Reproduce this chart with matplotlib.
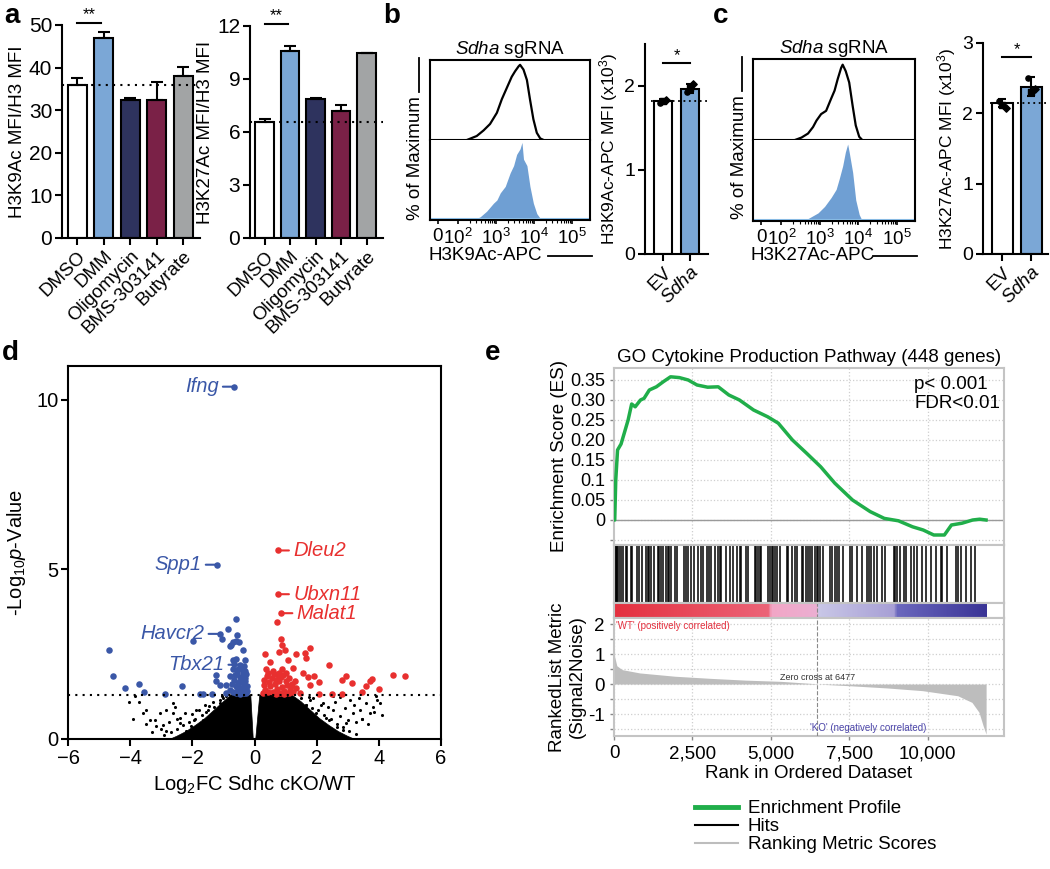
import numpy as np
import matplotlib
matplotlib.use('Agg')
import matplotlib.pyplot as plt
from matplotlib.lines import Line2D
from matplotlib.colors import LinearSegmentedColormap

plt.rcParams['font.family'] = ['Liberation Sans', 'DejaVu Sans']
plt.rcParams['mathtext.fontset'] = 'custom'
plt.rcParams['mathtext.rm'] = 'Liberation Sans'
plt.rcParams['mathtext.it'] = 'Liberation Sans:italic'
plt.rcParams['axes.linewidth'] = 1.5

# ---- panel a data ----
treatments = ['DMSO', 'DMM', 'Oligomycin', 'BMS-303141', 'Butyrate']
a_colors = ['white', '#7BA7D6', '#2E335E', '#7A2147', '#A2A4A5']
h3k9 = [36.0, 47.0, 32.3, 32.3, 38.0]
h3k9_err = [1.6, 1.3, 0.6, 4.3, 2.1]
h3k27 = [6.55, 10.6, 7.85, 7.2, 10.45]
h3k27_err = [0.18, 0.25, 0.07, 0.35, 0.04]

# ---- panels b/c flow histograms (x in log10 units) ----
hist_zero_u = 1.47
b_black_u = [2.23, 2.49, 2.67, 2.84, 3.02, 3.15, 3.28, 3.41, 3.50, 3.59, 3.63, 3.72, 3.81, 3.89, 3.98, 4.07, 4.16, 4.25]
b_black_h = [0, 5, 12, 20, 34, 51, 65, 79, 86, 92, 94, 88, 75, 51, 26, 9, 2, 0]
b_blue_u = [2.40, 2.58, 2.75, 2.93, 3.02, 3.11, 3.24, 3.37, 3.46, 3.54, 3.63, 3.68, 3.72, 3.81, 3.89, 3.98, 4.07, 4.16, 4.25]
b_blue_h = [0, 4, 11, 21, 25, 34, 42, 59, 68, 82, 89, 97, 76, 68, 42, 21, 8, 2, 0]
c_black_u = [2.35, 2.52, 2.69, 2.82, 2.91, 3.03, 3.16, 3.29, 3.38, 3.46, 3.55, 3.59, 3.67, 3.76, 3.85, 3.93, 4.02, 4.10]
c_black_h = [0, 3, 8, 16, 24, 32, 36, 51, 61, 75, 89, 93, 85, 71, 42, 18, 4, 0]
c_blue_u = [2.44, 2.69, 2.95, 3.12, 3.29, 3.42, 3.50, 3.59, 3.66, 3.72, 3.76, 3.85, 3.93, 4.02, 4.10]
c_blue_h = [0, 3, 10, 18, 29, 39, 52, 68, 85, 95, 85, 60, 26, 8, 0]

# ---- panels b/c MFI bars ----
groups = ['EV', r'$\it{Sdha}$']
b_mfi = [1.82, 1.97]
b_err = [0.02, 0.05]
b_pts = [[1.80, 1.82, 1.83], [1.93, 1.98, 2.02]]
c_mfi = [2.15, 2.38]
c_err = [0.06, 0.13]
c_pts = [[2.17, 2.12, 2.07], [2.50, 2.30, 2.34]]

# ---- panel d volcano ----
core_left_x = [-0.04, -0.12, -0.75, -1.00, -1.30, -1.60, -1.90, -2.20, -2.50, -2.70]
core_left_y = [0.0, 1.30, 1.30, 1.10, 0.85, 0.60, 0.40, 0.22, 0.08, 0.0]
core_right_x = [0.04, 0.17, 1.20, 1.50, 1.80, 2.10, 2.40, 2.70, 3.00, 3.20]
core_right_y = [0.0, 1.30, 1.30, 1.10, 0.85, 0.60, 0.40, 0.22, 0.08, 0.0]
ns_x = [-3.86, -3.70, -3.48, -3.21, -3.05, -2.84, -2.62, -2.41, -2.25, -2.03, -1.87, -1.66, -1.45, -1.28,
        -2.62, -3.16, -3.59, -2.84, -2.20, -1.77, -1.12, -0.91, -3.35, -2.95, -2.50, -1.95, -1.55, -4.05,
        -1.00, -1.10, -1.30, -1.50, -1.70, -1.90, -2.10, -2.30, -2.50, -2.70, -2.90, -1.35, -1.60, -2.00,
        -2.40, -2.75, -3.00, -3.30, -1.15, -1.85, -2.15, -3.50, -2.55, -3.90, -1.05,
        1.23, 1.56, 1.77, 1.98, 2.20, 2.41, 2.52, 2.74, 2.95, 3.16, 3.38, 3.59, 3.70, 3.91, 2.52, 3.06,
        2.09, 2.84, 1.88, 1.45, 3.25, 2.65, 2.30, 3.80, 4.05, 1.65, 3.45,
        1.50, 1.65, 1.85, 2.05, 2.25, 2.45, 2.65, 2.85, 3.05, 3.25, 1.75, 2.15, 2.35, 2.60, 2.90, 3.20,
        3.45, 3.65, 3.85, 4.10, 2.00, 2.55, 3.00, 1.90, 3.35, 2.75, 3.95]
ns_y = [1.26, 1.08, 0.86, 0.57, 0.77, 0.86, 0.77, 0.47, 0.77, 0.37, 0.86, 0.57, 0.96, 0.77,
        1.06, 0.37, 0.77, 0.23, 0.23, 0.86, 1.16, 1.26, 0.55, 0.40, 0.60, 0.55, 0.80, 1.10,
        1.20, 1.05, 0.95, 0.85, 0.70, 0.60, 0.50, 0.42, 0.30, 0.20, 0.12, 1.10, 1.00, 0.75,
        0.62, 0.50, 0.30, 0.20, 0.90, 0.35, 0.15, 0.45, 0.95, 0.60, 1.28,
        1.06, 0.86, 1.16, 0.77, 1.06, 0.57, 0.86, 0.67, 0.47, 0.77, 0.86, 1.06, 0.77, 1.26, 1.26, 1.16,
        0.37, 0.27, 1.21, 0.47, 0.50, 0.35, 0.62, 0.95, 1.05, 1.00, 0.60,
        1.20, 1.00, 0.90, 0.85, 0.70, 0.60, 0.45, 0.35, 0.25, 0.15, 1.25, 1.00, 0.95, 1.10, 0.90, 1.00,
        0.60, 0.45, 0.80, 0.70, 0.45, 0.20, 0.55, 0.20, 1.20, 1.25, 1.15]
blue_x = [-4.68, -4.55, -4.17, -3.70, -3.57, -2.87, -2.32, -1.98, -1.74, -1.66, -1.37, -1.21, -1.12, -1.04,
          -1.23, -1.25, -1.12, -0.86, -0.80, -0.75, -0.69, -0.61, -0.57, -0.66, -0.59, -0.50, -0.37, -0.69,
          -0.59, -0.48, -0.32, -0.69, -0.80, -0.91, -0.91, -0.78, -0.72, -0.65, -0.60, -0.55, -0.50, -0.45,
          -0.40, -0.35, -0.30, -0.26, -0.62, -0.55, -0.48, -0.42, -0.36, -0.30, -0.25, -0.70, -0.52, -0.44,
          -0.38, -0.33, -0.28, -0.58, -0.47, -0.40, -0.34, -0.29, -0.24, -0.66, -0.53, -0.43, -0.31]
blue_y = [2.61, 1.87, 1.50, 1.63, 1.40, 1.33, 1.57, 2.88, 1.34, 1.34, 1.33, 5.14, 3.10, 2.96,
          1.90, 1.70, 1.60, 3.24, 2.73, 2.78, 2.85, 3.54, 3.08, 10.39, 2.88, 2.85, 2.61, 2.34,
          2.36, 2.19, 2.34, 2.05, 1.85, 1.60, 1.36, 1.45, 1.62, 1.75, 1.55, 1.42, 1.68, 1.50,
          1.38, 1.60, 1.45, 1.35, 1.90, 1.95, 1.82, 1.72, 1.85, 1.70, 1.55, 1.38, 2.05, 2.10,
          1.98, 2.15, 1.92, 1.35, 1.33, 1.48, 1.36, 1.80, 1.42, 2.22, 1.62, 1.40, 2.00]
red_x = [0.75, 0.75, 0.86, 0.73, 0.86, 0.89, 0.78, 0.99, 1.34, 1.61, 1.80, 1.66, 0.35, 0.51, 0.38,
         1.07, 1.23, 2.41, 1.56, 1.72, 1.93, 1.77, 2.09, 2.07, 2.49, 2.82, 2.93, 3.14, 2.82, 3.46,
         3.59, 3.72, 3.78, 4.02, 4.45, 4.83, 0.28, 0.35, 0.42, 0.50, 0.58, 0.65, 0.72, 0.80, 0.88,
         0.95, 1.05, 1.15, 1.25, 1.35, 1.45, 0.30, 0.40, 0.48, 0.55, 0.62, 0.70, 0.78, 0.85, 0.92,
         1.00, 1.10, 1.20, 1.30, 0.32, 0.45, 0.60, 0.75, 0.90, 1.02, 1.18, 0.68, 0.82, 0.96, 1.12]
red_y = [5.56, 4.27, 3.71, 3.44, 2.95, 2.78, 2.58, 2.61, 2.51, 2.55, 2.68, 2.39, 2.51, 2.26, 2.06,
         2.32, 2.09, 2.19, 1.94, 1.83, 1.85, 1.60, 1.67, 1.34, 1.34, 1.75, 1.85, 1.65, 1.34, 1.40,
         1.55, 1.70, 1.77, 1.47, 1.90, 1.85, 1.35, 1.45, 1.38, 1.55, 1.40, 1.62, 1.48, 1.70, 1.52,
         1.42, 1.60, 1.45, 1.38, 1.50, 1.35, 1.75, 1.85, 1.68, 1.80, 1.92, 1.75, 1.95, 1.83, 1.90,
         1.72, 1.80, 1.62, 1.70, 1.60, 1.95, 2.00, 1.88, 2.05, 1.95, 1.55, 1.33, 1.35, 1.33, 1.36]
gene_labels = ['Ifng', 'Spp1', 'Havcr2', 'Tbx21', 'Dleu2', 'Ubxn11', 'Malat1']
gene_x = [-0.66, -1.21, -1.12, -0.48, 0.75, 0.75, 0.86]
gene_y = [10.39, 5.14, 3.10, 2.19, 5.56, 4.27, 3.71]
p_cut = 1.3

# ---- panel e GSEA ----
es_rank = [0, 23, 56, 113, 225, 338, 450, 563, 676, 845, 957, 1126, 1351, 1577, 1802, 2083, 2365, 2646,
           2984, 3322, 3660, 3998, 4448, 4899, 5236, 5687, 6137, 6588, 7038, 7601, 8164, 8615, 9065,
           9516, 9854, 10192, 10530, 10755, 11093, 11430, 11655, 11858]
es_vals = [0.0, 0.0, 0.10, 0.175, 0.19, 0.22, 0.25, 0.29, 0.283, 0.30, 0.304, 0.325, 0.333, 0.346, 0.358,
           0.356, 0.35, 0.3375, 0.332, 0.333, 0.3125, 0.30, 0.275, 0.258, 0.242, 0.20, 0.167, 0.133,
           0.092, 0.05, 0.021, 0.004, -0.002, -0.017, -0.025, -0.0375, -0.0375, -0.0125, -0.008, 0.0,
           0.002, 0.0]
hit_ranks = [20, 53, 80, 107, 160, 235, 299, 374, 427, 534, 587, 748, 801, 908, 1015, 1068, 1121, 1175,
             1282, 1410, 1442, 1495, 1549, 1655, 1709, 1762, 1816, 1944, 2008, 2221, 2296, 2371, 2456,
             2542, 2670, 2777, 2830, 2969, 3012, 3097, 3204, 3311, 3364, 3418, 3578, 3685, 3791, 3930,
             4005, 4058, 4219, 4272, 4486, 4539, 4592, 4646, 4699, 4913, 4966, 5020, 5073, 5126, 5180,
             5287, 5500, 5554, 5660, 5767, 5821, 5981, 6034, 6109, 6194, 6248, 6323, 6408, 6461, 6515,
             6568, 6675, 6889, 6942, 7049, 7102, 7177, 7284, 7529, 7583, 7743, 7903, 8063, 8117, 8202,
             8277, 8384, 8544, 8651, 8918, 8971, 9025, 9131, 9238, 9292, 9452, 9559, 9665, 9826, 9932,
             10093, 10253, 10413, 10466, 10627, 10894, 10979, 11054, 11214, 11374, 11513]
metric_rank = [0, 90, 259, 822, 1948, 3074, 4200, 5327, 6453, 6477, 7579, 8705, 9831, 10957, 11408,
               11633, 11768, 11860]
metric_vals = [1.0, 0.61, 0.48, 0.37, 0.26, 0.19, 0.13, 0.09, 0.01, 0.0, -0.06, -0.13, -0.22, -0.39,
               -0.61, -0.94, -1.40, -1.67]
cb_stops = [0, 4900, 5000, 6470, 6500, 8950, 9000, 11860]
cb_colors = ['#E4303F', '#EC6478', '#F2A6C6', '#EBAFD2', '#C9C7E7', '#A79FD5', '#6B68BE', '#3A3496']
n_genes = 11860
zero_cross = 6477

fig = plt.figure(figsize=(10.5, 8.69), dpi=100)


def frac(x0, y0, x1, y1):
    # pixel box -> figure fraction rect
    return [x0 / 1050, 1 - y1 / 869, (x1 - x0) / 1050, (y1 - y0) / 869]


def style_ticks(ax, size=14):
    ax.tick_params(width=1.5, length=5, labelsize=size, pad=2)


# ================= panel a =================
def bar_panel(rect, vals, errs, ymax, step, ylabel, sig_y, star_pad):
    ax = fig.add_axes(rect)
    x = np.arange(len(vals))
    ax.bar(x, vals, width=0.72, color=a_colors, edgecolor='black', linewidth=1.5, zorder=2)
    ax.errorbar(x, vals, yerr=[np.zeros(len(errs)), errs], fmt='none', ecolor='black',
                elinewidth=1.5, capsize=4, capthick=1.5, zorder=3)
    ax.axhline(vals[0], ls=(0, (1, 2.5)), color='black', lw=1.5, zorder=4)
    ax.set_xlim(-0.57, 4.64)
    ax.set_ylim(0, ymax)
    ax.set_yticks(np.arange(0, ymax + step / 2, step))
    ax.set_xticks(x)
    ax.set_xticklabels(treatments, rotation=45, ha='right', rotation_mode='anchor')
    ax.spines['top'].set_visible(False)
    ax.spines['right'].set_visible(False)
    style_ticks(ax, 15)
    ax.tick_params(axis='x', labelsize=13.5)
    ax.set_ylabel(ylabel, fontsize=13.5, labelpad=2)
    ax.plot([0, 0.9], [sig_y, sig_y], color='black', lw=1.5, clip_on=False)
    ax.text(0.45, sig_y + star_pad, '**', ha='center', va='bottom', fontsize=12)
    return ax


bar_panel(frac(62, 25, 200, 238), h3k9, h3k9_err, 50, 10, 'H3K9Ac MFI/H3 MFI', 50.5, 0.2)
bar_panel(frac(250, 26, 383, 238), h3k27, h3k27_err, 12, 3, 'H3K27Ac MFI/H3 MFI', 12.1, 0.05)


# ================= panels b, c histograms =================
def hist_panel(px, bu, bh, lu, lh, xlabel, xl_end):
    x0, y0, x1, y1 = px
    mid = (y0 + y1) / 2
    ax_t = fig.add_axes(frac(x0, y0, x1, mid))
    ax_b = fig.add_axes(frac(x0, mid, x1, y1))
    for ax in (ax_t, ax_b):
        ax.set_xlim(1.26, 5.47)
        ax.set_ylim(0, 100)
        ax.set_yticks([])
    ax_t.axhline(0, color='black', lw=1.5)
    ax_t.plot(bu, bh, color='black', lw=1.6)
    ax_t.spines['bottom'].set_visible(False)
    ax_t.set_xticks([])
    ax_b.fill_between(lu, lh, 0, color='#6F9FD3', lw=0)
    ax_b.axhline(0.8, color='#8EC3EE', lw=1.5)
    ax_b.spines['top'].set_visible(False)
    ax_b.set_xticks([hist_zero_u, 2, 3, 4, 5])
    ax_b.set_xticklabels(['0', '10$^2$', '10$^3$', '10$^4$', '10$^5$'])
    minor = [np.log10(m) + k for k in (2, 3, 4) for m in range(2, 10)]
    ax_b.set_xticks(minor, minor=True)
    ax_b.tick_params(axis='x', which='major', width=1.2, length=3, labelsize=13.5, pad=3)
    ax_b.tick_params(axis='x', which='minor', width=0.8, length=2)
    ax_t.set_title(r'$\it{Sdha}$ sgRNA', fontsize=13.5, pad=3)
    # y label with the guide line
    fig.text((x0 - 14) / 1050, 1 - (y0 + 98) / 869, '% of Maximum', rotation=90,
             ha='center', va='center', fontsize=13.5)
    fig.add_artist(Line2D([(x0 - 11) / 1050] * 2, [1 - (y0 - 2) / 869, 1 - (y0 + 32) / 869],
                          color='black', lw=1.3, transform=fig.transFigure))
    fig.text((x0 - 2) / 1050, 1 - 256 / 869, xlabel, ha='left', va='center', fontsize=13.5)
    fig.add_artist(Line2D([xl_end / 1050, (x1 + 2) / 1050], [1 - 256 / 869] * 2,
                          color='black', lw=1.3, transform=fig.transFigure))


hist_panel((430, 60, 590, 220), b_black_u, b_black_h, b_blue_u, b_blue_h, 'H3K9Ac-APC', 548)
hist_panel((753, 59, 915, 221), c_black_u, c_black_h, c_blue_u, c_blue_h, 'H3K27Ac-APC', 873)


# ================= panels b, c MFI bars =================
def mfi_panel(rect, vals, errs, pts, ymax, ylabel, sig_y, xmax):
    ax = fig.add_axes(rect)
    x = np.arange(2)
    ax.bar(x, vals, width=0.7, color=['white', '#7BA7D6'], edgecolor='black', linewidth=1.5, zorder=2)
    ax.errorbar(x, vals, yerr=errs, fmt='none', ecolor='black', elinewidth=1.5, capsize=3,
                capthick=1.5, zorder=3)
    offsets = [-0.12, 0.0, 0.12]
    markers = ['o', 's', 'D']
    for i in range(2):
        for j, v in enumerate(pts[i]):
            ax.scatter(i + offsets[j], v, s=14, marker=markers[j], color='black', zorder=4)
    ax.axhline(vals[0], xmin=0.1, ls=(0, (1, 2)), color='black', lw=1.3, zorder=5)
    ax.set_xlim(-0.67, xmax)
    ax.set_ylim(0, ymax)
    ax.set_yticks(np.arange(0, ymax + 0.01, 1))
    ax.set_xticks(x)
    ax.set_xticklabels(groups, rotation=45, ha='right', rotation_mode='anchor')
    ax.spines['top'].set_visible(False)
    ax.spines['right'].set_visible(False)
    style_ticks(ax, 14)
    ax.tick_params(axis='x', labelsize=13.5)
    ax.set_ylabel(ylabel, fontsize=12.5, labelpad=3)
    ax.plot([0, 1], [sig_y, sig_y], color='black', lw=1.5, clip_on=False)
    ax.text(0.5, sig_y, '*', ha='center', va='bottom', fontsize=12)


mfi_panel(frac(645, 44, 708, 254), b_mfi, b_err, b_pts, 2.5, 'H3K9Ac-APC MFI (x10$^3$)', 2.27, 1.67)
mfi_panel(frac(983, 43, 1048, 254), c_mfi, c_err, c_pts, 3, 'H3K27Ac-APC MFI (x10$^3$)', 2.8, 1.57)

# ================= panel d volcano =================
ax = fig.add_axes(frac(68, 366, 441, 739))
ax.fill(core_left_x, core_left_y, color='black', lw=0.5, zorder=2)
ax.fill(core_right_x, core_right_y, color='black', lw=0.5, zorder=2)
ax.scatter(ns_x, ns_y, s=5, color='black', lw=0, zorder=2)
ax.scatter(blue_x, blue_y, s=22, color='#3A57A7', lw=0, zorder=3)
ax.scatter(red_x, red_y, s=22, color='#E8302F', lw=0, zorder=3)
ax.axhline(p_cut, ls=(0, (1, 2.5)), color='black', lw=1.5, zorder=4)
for name, gx, gy in zip(gene_labels, gene_x, gene_y):
    col = '#3A57A7' if gx < 0 else '#E8302F'
    off = (-11, 0) if gx < 0 else (11, 0)
    ax.annotate(name, xy=(gx, gy), xytext=off, textcoords='offset points',
                ha='right' if gx < 0 else 'left', va='center', fontsize=14.5, style='italic',
                color=col, arrowprops=dict(arrowstyle='-', color=col, lw=1.5, shrinkA=1, shrinkB=0))
ax.set_xlim(-6, 6)
ax.set_ylim(0, 11)
ax.set_xticks([-6, -4, -2, 0, 2, 4, 6])
ax.set_yticks([0, 5, 10])
style_ticks(ax, 14.5)
ax.set_xlabel('Log$_2$FC Sdhc cKO/WT', fontsize=14.5)
ax.set_ylabel('-Log$_{10}$$\\it{p}$-Value', fontsize=14.5, labelpad=6)

# ================= panel e GSEA =================
frame_col = '#C4C4C4'
tick_pos = [0, 2500, 5000, 7500, 10000]


def gsea_axis(ax):
    ax.set_xlim(0, 12430)
    for s in ax.spines.values():
        s.set_color(frame_col)
        s.set_linewidth(1.5)
    ax.tick_params(colors='#888888', labelcolor='black', width=1, length=3)


ax_es = fig.add_axes(frac(614, 368, 1004, 545))
gsea_axis(ax_es)
ax_es.plot(es_rank, es_vals, color='#20AE4A', lw=2.5, zorder=3)
ax_es.axhline(0, color='#9A9A9A', lw=1)
ax_es.set_ylim(-0.0625, 0.38)
ax_es.set_yticks([-0.05, 0, 0.05, 0.1, 0.15, 0.2, 0.25, 0.3, 0.35])
ax_es.set_yticklabels(['', '0', '0.05', '0.1', '0.15', '0.20', '0.25', '0.30', '0.35'], fontsize=13)
ax_es.set_xticks(tick_pos[1:])
ax_es.set_xticklabels([])
ax_es.tick_params(axis='x', length=0)
ax_es.grid(True, ls=':', color='#CFCFCF', lw=0.9)
ax_es.set_title('GO Cytokine Production Pathway (448 genes)', fontsize=13.5, pad=4)
ax_es.set_ylabel('Enrichment Score (ES)', fontsize=13.5, labelpad=1)
ax_es.text(0.77, 0.955, 'p< 0.001\nFDR<0.01', transform=ax_es.transAxes, ha='left', va='top',
           fontsize=13.5, linespacing=1.15)

ax_hit = fig.add_axes(frac(614, 545, 1004, 603))
gsea_axis(ax_hit)
ax_hit.vlines(hit_ranks, 0, 1, color='black', lw=1.1)
ax_hit.set_ylim(0, 1)
ax_hit.set_xticks([])
ax_hit.set_yticks([])

ax_cb = fig.add_axes(frac(614, 603, 1004, 618))
gsea_axis(ax_cb)
cmap = LinearSegmentedColormap.from_list('rank', list(zip([s / n_genes for s in cb_stops], cb_colors)))
ax_cb.imshow([np.linspace(0, 1, 400)], aspect='auto', cmap=cmap, extent=[0, n_genes, 0, 1])
ax_cb.set_xlim(0, 12430)
ax_cb.set_ylim(0, 1)
ax_cb.set_xticks([])
ax_cb.set_yticks([])

ax_rk = fig.add_axes(frac(614, 618, 1004, 736))
gsea_axis(ax_rk)
ax_rk.fill_between(metric_rank, metric_vals, 0, color='#BDBDBD', lw=0, zorder=2)
ax_rk.set_ylim(-1.73, 2.2)
ax_rk.set_yticks([-1.5, -1, -0.5, 0, 0.5, 1, 1.5, 2])
ax_rk.set_yticklabels(['', '-1', '', '0', '', '1', '', '2'], fontsize=13.5)
ax_rk.set_xticks(tick_pos)
ax_rk.set_xticklabels(['0', '2,500', '5,000', '7,500', '10,000'], fontsize=13.5)
ax_rk.grid(True, ls=':', color='#CFCFCF', lw=0.9)
ax_rk.axvline(zero_cross, ls='--', color='#8A8A8A', lw=0.8, zorder=3)
ax_rk.text(zero_cross, 0.06, 'Zero cross at 6477', ha='center', va='bottom', fontsize=6.5, color='#333333')
ax_rk.text(60, 2.1, "'WT' (positively correlated)", ha='left', va='top', fontsize=7, color='#E4303F')
ax_rk.text(6250, -1.3, "'KO' (negatively correlated)", ha='left', va='top', fontsize=7, color='#4A44A8')
ax_rk.set_xlabel('Rank in Ordered Dataset', fontsize=13.5, labelpad=2)
ax_rk.set_ylabel('RankedList Metric\n(Signal2Noise)', fontsize=13.5, labelpad=2)
ax_cb.axvline(zero_cross, ls='--', color='#8A8A8A', lw=0.8)

handles = [Line2D([], [], color='#20AE4A', lw=3.5),
           Line2D([], [], color='black', lw=1.5),
           Line2D([], [], color='#BDBDBD', lw=1.5)]
fig.legend(handles, ['Enrichment Profile', 'Hits', 'Ranking Metric Scores'], loc='upper left',
           bbox_to_anchor=(0.655, 0.088), frameon=False, fontsize=13.5, handlelength=2.3,
           labelspacing=0.05, borderaxespad=0, handletextpad=0.5)

# panel letters
for letter, lx, ly in [('a', 4, 3), ('b', 383, 3), ('c', 713, 3), ('d', 2, 340), ('e', 485, 340)]:
    fig.text(lx / 1050, 1 - ly / 869, letter, fontsize=20, fontweight='bold', ha='left', va='top')

fig.savefig('out.png', dpi=100)
